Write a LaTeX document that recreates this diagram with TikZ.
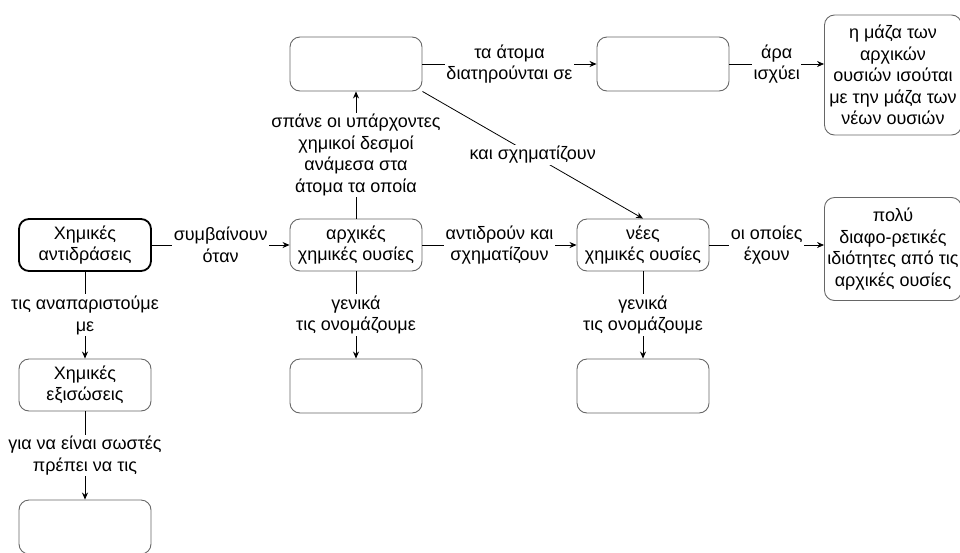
\documentclass[tikz,border=0pt]{standalone}
\usepackage{fontspec}
\setmainfont{Liberation Sans}
\usetikzlibrary{arrows.meta}

\begin{document}
\begin{tikzpicture}[x=1pt, y=-1pt,
    box/.style={draw=black!60, line width=0.9pt, rounded corners=10pt,
      minimum width=132pt, minimum height=52pt, align=center,
      inner sep=2pt, font=\fontsize{18}{21.5}\selectfont},
    mainbox/.style={box, draw=black, line width=1.8pt},
    word/.style={fill=white, inner sep=1.5pt, align=center,
      font=\fontsize{18}{21.5}\selectfont},
    link/.style={line width=0.8pt, -{Stealth[length=7pt,width=6pt]}}]
    \useasboundingbox (0,0) rectangle (960,552);
    \clip (0,0) rectangle (960,552);

    % left column
    \node[mainbox] (antidr) at (85,245) {Χημικές\\αντιδράσεις};
    \node[box] (exisoseis) at (85,385) {Χημικές\\εξισώσεις};
    \node[box, minimum height=54pt] (sostes) at (85,527) {};

    % middle row
    \node[box] (arxikes) at (356,245) {αρχικές\\χημικές ουσίες};
    \node[box] (nees) at (643,245) {νέες\\χημικές ουσίες};
    \node[box, minimum width=137pt, minimum height=103pt] (idiotites) at (893,249)
      {πολύ\\διαφο-ρετικές\\ιδιότητες από τις\\αρχικές ουσίες};

    % top row
    \node[box, minimum height=54pt] (spasimo) at (356,64) {};
    \node[box, minimum height=54pt] (diatirisi) at (663,64) {};
    \node[box, minimum width=137pt, minimum height=120pt] (maza) at (893,75)
      {η μάζα των\\αρχικών\\ουσιών ισούται\\με την μάζα των\\νέων ουσιών};

    % bottom row
    \node[box, minimum height=54pt] (onoma1) at (356,386) {};
    \node[box, minimum height=54pt] (onoma2) at (643,386) {};

    \draw[link] (antidr) -- node[word] {συμβαίνουν\\όταν} (arxikes);
    \draw[link] (arxikes) -- node[word] {αντιδρούν και\\σχηματίζουν} (nees);
    \draw[link] (nees) -- node[word] {οι οποίες\\έχουν} (idiotites.west |- nees);
    \draw[link] (arxikes) -- node[word] {σπάνε οι υπάρχοντες\\χημικοί δεσμοί\\ανάμεσα στα\\άτομα τα οποία} (spasimo);
    \draw[link] (spasimo) -- node[word] {τα άτομα\\διατηρούνται σε} (diatirisi);
    \draw[link] (diatirisi) -- node[word] {άρα\\ισχύει} (maza.west |- diatirisi);
    \draw[link] (spasimo.south east) -- node[word] {και σχηματίζουν} (nees.north);

    \draw[link] (antidr) -- node[word] {τις αναπαριστούμε\\με} (exisoseis);
    \draw[link] (exisoseis) -- node[word] {για να είναι σωστές\\πρέπει να τις} (sostes);
    \draw[link] (arxikes) -- node[word] {γενικά\\τις ονομάζουμε} (onoma1);
    \draw[link] (nees) -- node[word] {γενικά\\τις ονομάζουμε} (onoma2);
\end{tikzpicture}
\end{document}
